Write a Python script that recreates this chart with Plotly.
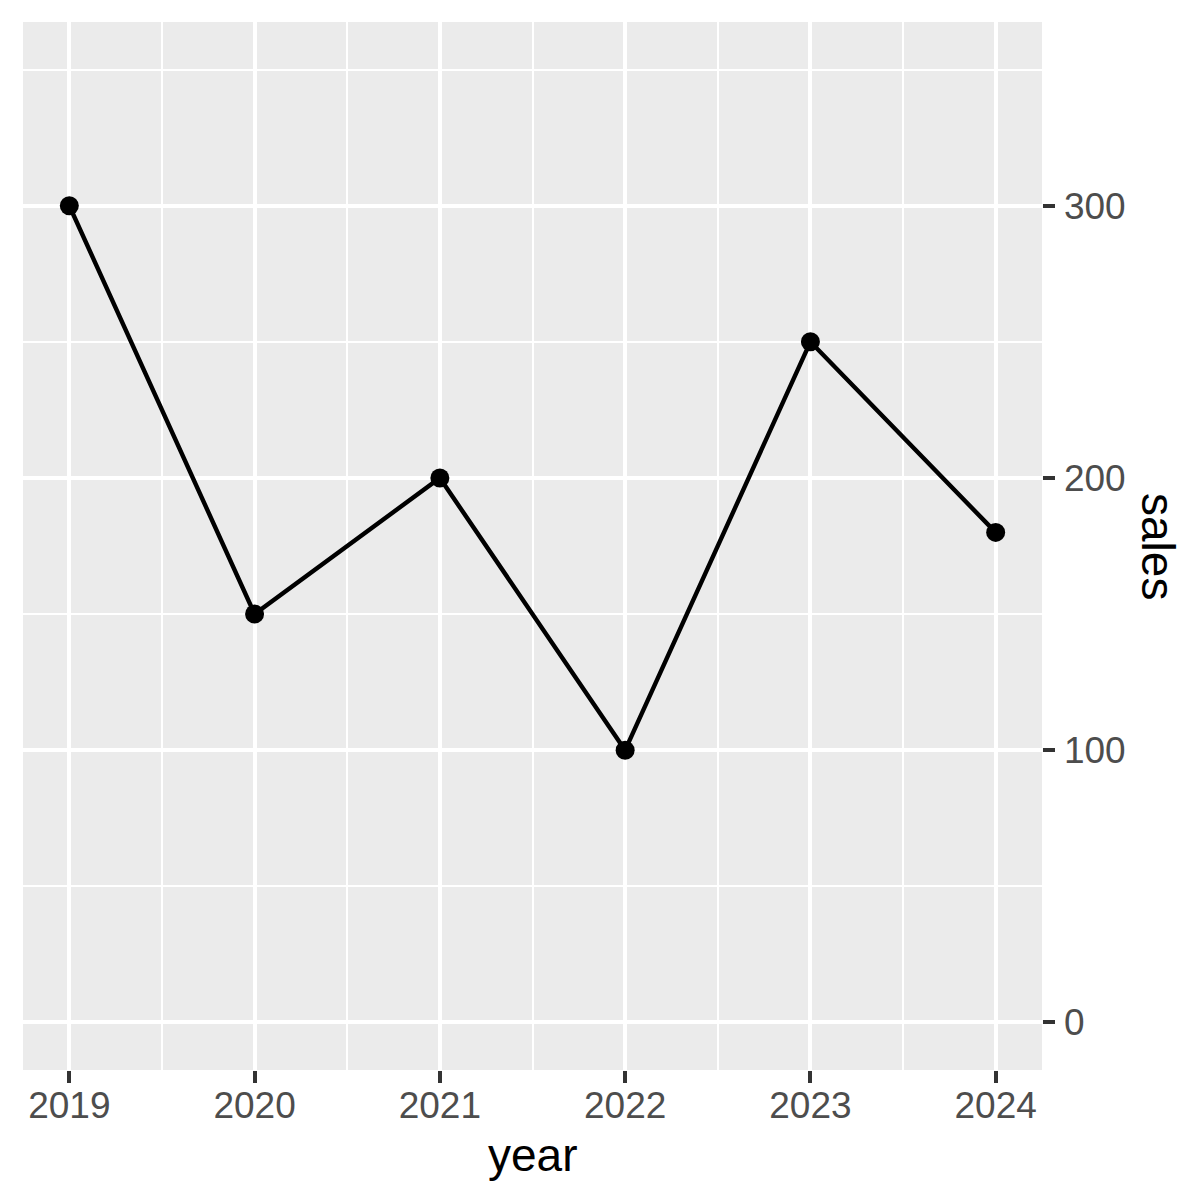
import plotly.graph_objects as go

years = [2019, 2020, 2021, 2022, 2023, 2024]
sales = [300, 150, 200, 100, 250, 180]
y_ticks = [0, 100, 200, 300]

W, H = 1200, 1200
OFF = 8  # page body offset
L, R, T, B = 23 - OFF, 158 + OFF, 22 - OFF, 130 + OFF
pw, ph = W - L - R, H - T - B
panel_bottom = H - B

fig = go.Figure()
fig.add_trace(go.Scatter(
    x=years, y=sales, mode="lines+markers",
    line=dict(color="black", width=4.4),
    marker=dict(color="black", size=19),
    showlegend=False, hoverinfo="skip",
))

font = "Liberation Sans, Arial, sans-serif"
fig.update_layout(
    width=W, height=H,
    margin=dict(l=L, r=R, t=T, b=B, pad=0),
    paper_bgcolor="white", plot_bgcolor="#EBEBEB",
    font=dict(family=font, size=37, color="#4D4D4D"),
    xaxis=dict(
        range=[2018.75, 2024.25], tickvals=years, ticktext=[str(y) for y in years],
        showgrid=True, gridcolor="white", gridwidth=4.4,
        minor=dict(tickvals=[2019.5, 2020.5, 2021.5, 2022.5, 2023.5], showgrid=True,
                   gridcolor="white", gridwidth=2.2, ticks=""),
        ticks="outside", ticklen=11.5, tickwidth=4.4, tickcolor="#333333",
        zeroline=False, showline=False, ticklabelstandoff=-9,
        tickfont=dict(size=37, color="#4D4D4D"),
    ),
    yaxis=dict(
        range=[-17.5, 367.5], side="right", tickvals=y_ticks,
        showgrid=True, gridcolor="white", gridwidth=4.4,
        minor=dict(tickvals=[50, 150, 250, 350], showgrid=True,
                   gridcolor="white", gridwidth=2.2, ticks=""),
        ticks="outside", ticklen=11.5, tickwidth=4.4, tickcolor="#333333",
        zeroline=False, showline=False, ticklabelstandoff=2,
        tickfont=dict(size=37, color="#4D4D4D"),
    ),
    annotations=[
        dict(text="year", xref="paper", yref="paper",
             x=0.5, y=(panel_bottom - (1155 - OFF)) / ph,
             xanchor="center", yanchor="middle", showarrow=False,
             font=dict(family=font, size=46, color="black")),
        dict(text="sales", xref="paper", yref="paper",
             x=((1158 - OFF) - L) / pw, y=0.5, textangle=90,
             xanchor="center", yanchor="middle", showarrow=False,
             font=dict(family=font, size=46, color="black")),
    ],
)

fig.write_html("out.html")
